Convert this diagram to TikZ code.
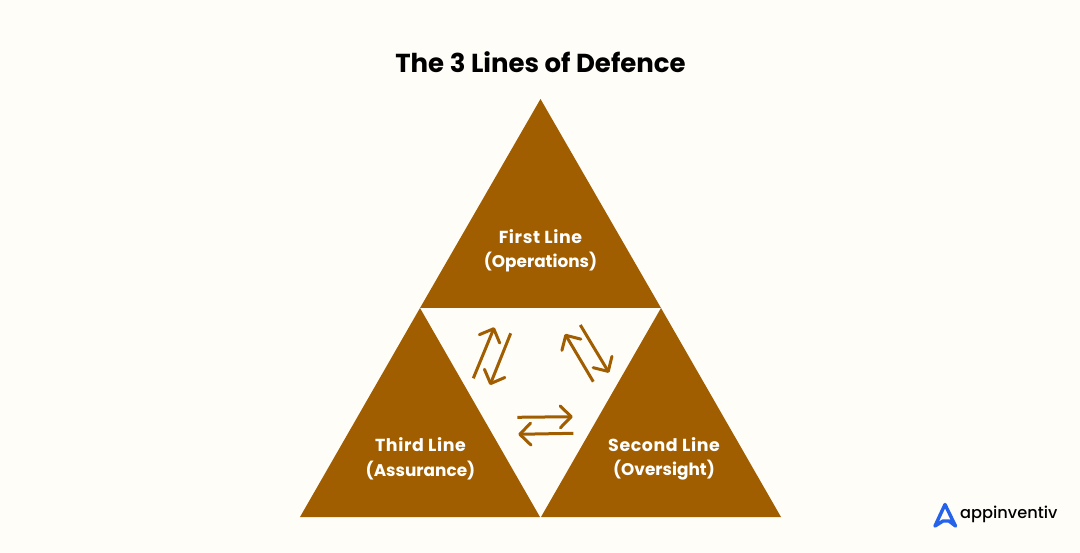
\documentclass[tikz,border=0pt]{standalone}
\usepackage{fontspec}
\setmainfont{Poppins}
\newfontfamily\logofont{Poppins Medium}
\usetikzlibrary{arrows.meta}
\definecolor{bgc}{HTML}{FFFDF8}
\definecolor{brownc}{HTML}{A05E00}
\definecolor{bluec}{HTML}{2563EB}
\newcommand{\headline}[1]{{\addfontfeature{LetterSpace=3.5}\fontsize{17.4}{24.5}\selectfont #1}}
\tikzset{
  tri/.style={fill=brownc,draw=none},
  lbl/.style={text=white,align=center,font=\bfseries\fontsize{16.9}{24.5}\selectfont,inner sep=0pt},
  flow/.style={draw=brownc,line width=3pt,-{Straight Barb[length=11pt,width=22pt,line width=3pt,round]}},
}
\begin{document}
\begin{tikzpicture}[x=1pt,y=-1pt]
\useasboundingbox (0,0) rectangle (1080,553);
\fill[bgc] (0,0) rectangle (1080,553);
\node[font=\bfseries\fontsize{26}{30}\selectfont,text=black,inner sep=0pt] (title) at (540.5,62.5) {The 3 Lines of Defence};
\fill[tri] (540.5,99) -- (661,308) -- (420,308) -- cycle;
\fill[tri] (420,308) -- (540,517) -- (300,517) -- cycle;
\fill[tri] (661,308) -- (781,517) -- (541,517) -- cycle;
\node[lbl] (first) at (540.5,251) {\headline{First Line}\\(Operations)};
\node[lbl] (third) at (420.5,459) {\headline{Third Line}\\(Assurance)};
\node[lbl] (second) at (664,459) {\headline{Second Line}\\(Oversight)};
\coordinate (a1s) at (473.3,378.3); \coordinate (a1e) at (494.3,327.3);
\coordinate (a2s) at (510.7,333.3); \coordinate (a2e) at (490,385);
\coordinate (a3s) at (593.3,381.7); \coordinate (a3e) at (565,334);
\coordinate (a4s) at (580.3,325);   \coordinate (a4e) at (609,372.7);
\coordinate (a5s) at (517.3,417.3); \coordinate (a5e) at (572.7,416.7);
\coordinate (a6s) at (573.3,433.3); \coordinate (a6e) at (518.3,434.3);
\draw[flow] (a1s) -- (a1e);
\draw[flow] (a2s) -- (a2e);
\draw[flow] (a3s) -- (a3e);
\draw[flow] (a4s) -- (a4e);
\draw[flow] (a5s) -- (a5e);
\draw[flow] (a6s) -- (a6e);
\draw[bluec,line width=3.4pt,line join=round,line cap=round] (935,526) -- (945,504.5) -- (955.5,526) -- (949,521) -- (943,521) -- (935,526);
\node[anchor=west,inner sep=0pt,font=\logofont\fontsize{16.2}{20}\selectfont,text=black] (logo) at (960,514) {appinventiv};
\end{tikzpicture}
\end{document}
